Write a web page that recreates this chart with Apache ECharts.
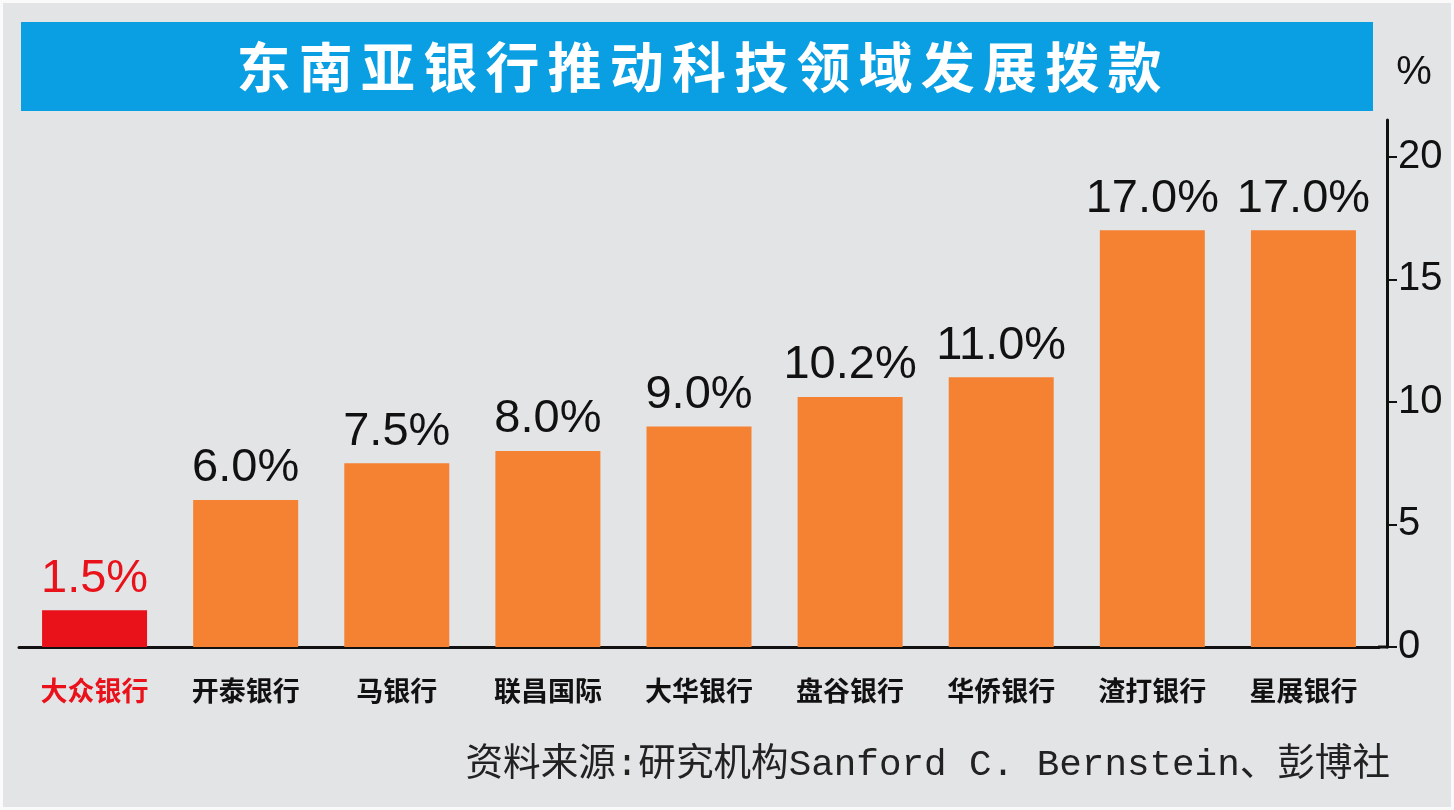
<!DOCTYPE html>
<html><head><meta charset="utf-8">
<script src="https://cdn.jsdelivr.net/npm/echarts@6/dist/echarts.min.js"></script>
<style>html,body{margin:0;padding:0;background:#e3e4e6}#c{width:1454px;height:810px}</style>
</head><body><div id="c"></div>
<script>
const titleText = '东南亚银行推动科技领域发展拨款';
const unitText = '%';
const sourceText = '资料来源:研究机构Sanford C. Bernstein、彭博社';
const categories = ['大众银行','开泰银行','马银行','联昌国际','大华银行','盘谷银行','华侨银行','渣打银行','星展银行'];
const values = [1.5, 6.0, 7.5, 8.0, 9.0, 10.2, 11.0, 17.0, 17.0];
const highlight = [true, false, false, false, false, false, false, false, false];
const yTicks = [0, 5, 10, 15, 20];

const ORANGE = '#f58232', RED = '#e9121b';
const chart = echarts.init(document.getElementById('c'));

const titleAdv = 62.2, titleCx = 699, titleY = 67;
const titleEls = Array.from(titleText).map((ch, i) => ({
  type: 'text',
  x: titleCx - (titleText.length * titleAdv) / 2 + titleAdv / 2 + i * titleAdv,
  y: titleY,
  style: { text: ch, fill: '#fff', font: 'bold 54px "Noto Sans CJK SC"', textAlign: 'center', textVerticalAlign: 'middle' }
}));

chart.setOption({
  backgroundColor: '#e3e4e6',
  animation: false,
  grid: { left: 19, right: 75, top: 120, bottom: 163 },
  xAxis: {
    type: 'category', data: categories, boundaryGap: true,
    axisLine: { lineStyle: { color: '#111', width: 3 } },
    axisTick: { alignWithLabel: true, length: 17, lineStyle: { color: '#111', width: 3 } },
    axisLabel: {
      margin: 30, fontSize: 27, fontWeight: 'bold', fontFamily: '"Noto Sans CJK SC"',
      color: (v, i) => highlight[i] ? RED : '#111'
    }
  },
  yAxis: {
    type: 'value', position: 'right', offset: 8, min: 0, max: 21.5, interval: 5,
    splitLine: { show: false },
    axisLine: { show: true, lineStyle: { color: '#111', width: 3 } },
    axisTick: { show: true, length: 10, customValues: yTicks, lineStyle: { color: '#111', width: 2 } },
    axisLabel: { margin: 11, fontSize: 40, color: '#111', fontFamily: '"Liberation Sans Narrow","Liberation Sans"', customValues: yTicks }
  },
  series: [{
    type: 'bar', barWidth: 105,
    data: values.map((v, i) => ({
      value: v,
      itemStyle: { color: highlight[i] ? RED : ORANGE },
      label: { color: highlight[i] ? RED : '#111' }
    })),
    label: {
      show: true, position: 'top', distance: 8,
      fontSize: 47, fontFamily: '"Liberation Sans"',
      formatter: p => p.value.toFixed(1) + '%'
    }
  }],
  graphic: [
    { type: 'rect', shape: { x: 1.5, y: 1.5, width: 1451, height: 807 }, style: { fill: 'none', stroke: '#fafafa', lineWidth: 3 }, silent: true },
    { type: 'rect', shape: { x: 21, y: 22, width: 1352, height: 89 }, style: { fill: '#0a9fe3' } },
    ...titleEls,
    { type: 'text', x: 1414, y: 73, style: { text: unitText, fill: '#111', font: '40px "Liberation Sans"', textAlign: 'center', textVerticalAlign: 'middle' } },
    { type: 'text', x: 1390, y: 765, style: { text: sourceText, fill: '#222', font: '37.6px "Liberation Mono","Noto Sans CJK SC"', textAlign: 'right', textVerticalAlign: 'middle' } }
  ]
});

// extend the x-axis baseline to meet the offset y-axis line
const base = chart.convertToPixel({ gridIndex: 0 }, [categories.length - 1, 0]);
const gridRight = 1454 - 75;
chart.setOption({
  graphic: [
    { type: 'rect', shape: { x: 1.5, y: 1.5, width: 1451, height: 807 }, style: { fill: 'none', stroke: '#fafafa', lineWidth: 3 }, silent: true },
    { type: 'rect', shape: { x: 21, y: 22, width: 1352, height: 89 }, style: { fill: '#0a9fe3' } },
    ...titleEls,
    { type: 'text', x: 1414, y: 73, style: { text: unitText, fill: '#111', font: '40px "Liberation Sans"', textAlign: 'center', textVerticalAlign: 'middle' } },
    { type: 'text', x: 1390, y: 765, style: { text: sourceText, fill: '#222', font: '37.6px "Liberation Mono","Noto Sans CJK SC"', textAlign: 'right', textVerticalAlign: 'middle' } },
    { type: 'line', shape: { x1: gridRight - 1, y1: base[1], x2: gridRight + 9, y2: base[1] }, style: { stroke: '#111', lineWidth: 3 } }
  ]
}, { replaceMerge: ['graphic'] });
</script></body></html>
